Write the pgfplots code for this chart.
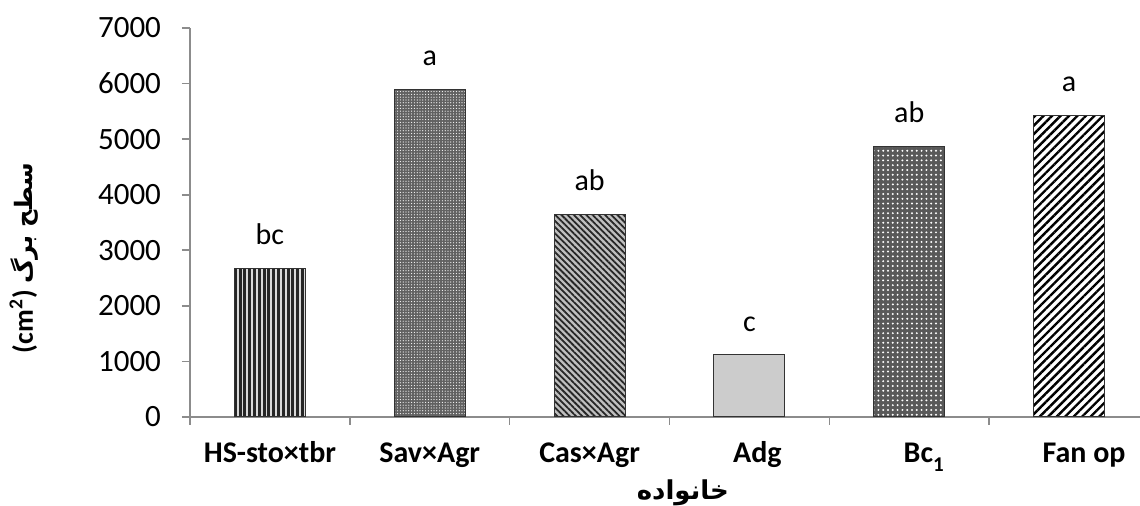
\documentclass[border=0pt]{standalone}
\usepackage{pgfplots}
\pgfplotsset{compat=1.18}
\usetikzlibrary{patterns.meta}
\usepackage{fontspec}
\setmainfont{Carlito}
\newfontfamily\arabicfont[Script=Arabic]{DejaVu Sans}
\TeXXeTstate=1

\begin{document}
\begin{tikzpicture}
\useasboundingbox (-95pt,-44.5pt) rectangle (475pt,208.5pt);
\begin{axis}[
    at={(0,0)}, anchor=south west,
    scale only axis,
    width=479.5pt, height=194.5pt,
    ybar, bar width=35.5pt, bar shift=0pt,
    xmin=-0.5, xmax=5.5,
    ymin=0, ymax=7000,
    axis x line*=bottom, axis y line*=left,
    axis line style={draw=black!45, line width=1pt},
    tick style={draw=black!45, line width=0.8pt},
    major tick length=4pt,
    tick align=outside,
    xtick={-0.5,0.5,...,5.5},
    x tick label as interval,
    % labels sit a little off the bar centres, as in the original
    xticklabels={HS-sto×tbr\hspace{14pt}, Sav×Agr\hspace{14pt}, Cas×Agr, \hspace{8pt}Adg, \hspace{15pt}Bc\raisebox{-2pt}{\textsubscript{1}}, \hspace{15pt}Fan op},
    xticklabel style={font=\bfseries\fontsize{15}{17}\selectfont, anchor=base, inner sep=0pt, yshift=-19pt},
    ytick={0,1000,...,7000},
    yticklabel style={font=\fontsize{15.5}{18}\selectfont, xshift=-7pt},
    /pgf/number format/assume math mode=true,
    /pgf/number format/1000 sep={},
    ylabel={\bfseries\fontsize{14}{16}\selectfont (cm\textsuperscript{2}) {\arabicfont\fontsize{12}{14}\selectfont\beginR سطح برگ\endR}},
    y label style={at={(axis description cs:-0.173,0.409)}, anchor=center},
    xlabel={\arabicfont\bfseries\fontsize{13}{15}\selectfont\beginR خانواده\endR},
    x label style={at={(axis description cs:0.514,-0.213)}, anchor=base},
    nodes near coords,
    point meta=explicit symbolic,
    every node near coord/.append style={font=\fontsize{15}{18}\selectfont, inner sep=0pt, yshift=11.5pt, anchor=south},
]

% HS-sto x tbr
\addplot[draw=black!80, line width=0.5pt, preaction={fill=black!15}, pattern={Lines[angle=90,distance=2.4pt,line width=1.5pt]}, pattern color=black!85]
    coordinates {(0,2680) [bc]};
% Sav x Agr
\addplot[draw=black!80, line width=0.5pt, preaction={fill=black!62}, pattern={Dots[radius=0.3pt,distance=1.4pt]}, pattern color=white]
    coordinates {(1,5900) [a]};
% Cas x Agr
\addplot[draw=black!80, line width=0.5pt, preaction={fill=black!25}, pattern={Lines[angle=-45,distance=2.2pt,line width=0.9pt]}, pattern color=black!85]
    coordinates {(2,3650) [ab]};
% Adg
\addplot[draw=black!80, line width=0.5pt, fill=black!20]
    coordinates {(3,1120) [c]};
% Bc1
\addplot[draw=black!80, line width=0.5pt, preaction={fill=black!65}, pattern={Dots[radius=0.55pt,distance=2.4pt]}, pattern color=white]
    coordinates {(4,4870) [ab]};
% Fan op
\addplot[draw=black!80, line width=0.5pt, pattern={Lines[angle=45,distance=3pt,line width=1.2pt]}, pattern color=black]
    coordinates {(5,5430) [a]};

\end{axis}
\end{tikzpicture}
\end{document}
